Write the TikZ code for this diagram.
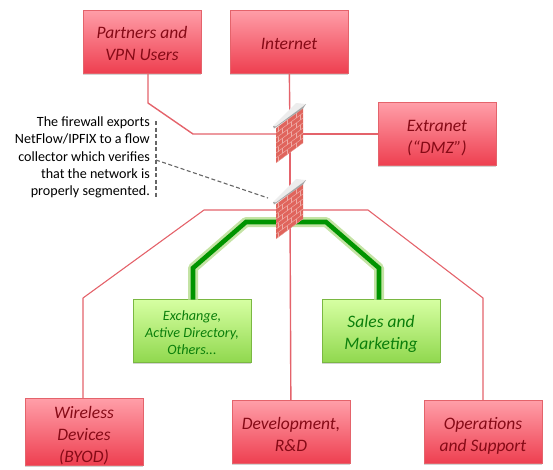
\documentclass[tikz,border=0pt]{standalone}
\usepackage{fontspec}
\setmainfont{Carlito}
\usetikzlibrary{shadows}
\definecolor{netred}{HTML}{E4636B}
\definecolor{nettext}{HTML}{860A16}
\definecolor{redtop}{HTML}{FF9EA8}
\definecolor{redbottom}{HTML}{EE3F50}
\definecolor{greentop}{HTML}{D6FFA2}
\definecolor{greenbottom}{HTML}{90D84E}
\definecolor{greentext}{HTML}{0B7F0B}
\definecolor{greenline}{HTML}{009400}
\definecolor{greenglow}{HTML}{C4E3A4}
\definecolor{brick}{HTML}{E0645C}
\newcommand{\dropline}[1]{\rule{0pt}{#1}}
\tikzset{
  zone/.style={minimum width=118pt, minimum height=63pt, inner sep=0pt, outer sep=0pt,
               align=center, font=\fontsize{17.5}{22}\selectfont\itshape,
               drop shadow={shadow xshift=0pt, shadow yshift=-1.5pt, opacity=0.35}},
  redzone/.style={zone, draw=netred, line width=0.8pt, top color=redtop,
                  bottom color=redbottom, text=nettext},
  greenzone/.style={zone, draw=greenbottom!85!black, line width=0.8pt, top color=greentop,
                    bottom color=greenbottom, text=greentext},
  link/.style={draw=netred, line width=1.4pt, line join=round},
  thinlink/.style={draw=netred, line width=1.1pt, line join=round},
  trunk/.style={draw=greenline, line width=4.6pt, line join=miter},
  glow/.style={draw=greenglow, line width=10pt, line join=round},
  notedash/.style={draw=black!60, line width=1.1pt, dash pattern=on 4pt off 2.5pt},
  pics/brickwall/.style={code={
    \fill[brick] (-14,-6) -- (13,-26) -- (13,9) -- (-14,29) -- cycle;
    \begin{scope}
      \clip (-14,-6) -- (13,-26) -- (13,9) -- (-14,29) -- cycle;
      \foreach \row in {0,...,7}{
        \draw[white!45!brick, line width=0.5pt] (-14,-6+5*\row) -- (13,-26+5*\row);
        \foreach \col in {0,1,2}{
          \pgfmathsetmacro{\colx}{-12+9*\col+4.5*mod(\row,2)}
          \draw[white!45!brick, line width=0.5pt] (\colx,{-6+5*\row-0.74*(\colx+14)})
            -- ++(0,5);
        }
      }
    \end{scope}
    \fill[black!7] (-17,-8) -- (6,-31) -- (16,-30) -- (13,-27) -- (-14,-6) -- cycle;
    \fill[black!35] (-17,-8) -- (-16,-5.5) -- (13,-25.5) -- (16,-30) -- (13,-27.5) -- (-14,-7.5) -- cycle;
  }}
}
\begin{document}
\begin{tikzpicture}[x=1pt,y=-1pt]
  \useasboundingbox (0,0) rectangle (553,469);
  \coordinate (fwa) at (290,134);
  \coordinate (fwb) at (290,210);
  \coordinate (pbenda) at (148,103);
  \coordinate (pbendb) at (193,134);
  \coordinate (wbenda) at (83,298);
  \coordinate (wbendb) at (204,210);
  \coordinate (obenda) at (483,298);
  \coordinate (obendb) at (368,210);
  \coordinate (gbenda) at (193,268);
  \coordinate (gbendb) at (246,222);
  \coordinate (gbendc) at (326,222);
  \coordinate (gbendd) at (379,268);
  \coordinate (dashtop) at (156,121);
  \coordinate (dashbot) at (156,197);
  \coordinate (dashmid) at (156,160);
  \coordinate (dashend) at (268,198);

  \node[redzone] (partners) at (142,41.5) {\dropline{16pt}Partners and\\VPN Users};
  \node[redzone] (internet) at (289,41.5) {\dropline{16pt}Internet};
  \node[redzone] (extranet) at (437,134) {\dropline{20pt}Extranet\\(“DMZ”)};
  \node[redzone] (wireless) at (84,432) {\dropline{20pt}Wireless\\Devices\\(BYOD)};
  \node[redzone] (devel) at (291,432) {\dropline{18pt}Development,\\R\&D};
  \node[redzone] (ops) at (483,432) {\dropline{20pt}Operations\\and Support};
  \node[greenzone, font=\fontsize{14.2}{17}\selectfont\itshape] (exch) at (192,331)
    {\dropline{13pt}Exchange,\\Active Directory,\\Others...};
  \node[greenzone] (sales) at (381,331) {\dropline{18pt}Sales and\\Marketing};
  \node[align=right, anchor=east, inner sep=0pt, font=\fontsize{14.1}{17.2}\selectfont] (note)
    at (150,157.5) {The firewall exports\\NetFlow/IPFIX to a flow\\collector which verifies\\that the network is\\properly segmented.};

  \draw[link] (partners.south -| pbenda) -- (pbenda) -- (pbendb) -- (fwa);
  \draw[link] (internet) -- (fwa);
  \draw[link] (fwa) -- (extranet);
  \draw[link] (fwa) -- (fwb);
  \draw[link] (fwb) -- (devel);
  \draw[thinlink] (wireless.north -| wbenda) -- (wbenda) -- (wbendb) -- (fwb);
  \draw[thinlink] (ops) -- (obenda) -- (obendb) -- (fwb);

  \draw[glow] (exch.north -| gbenda) -- (gbenda) -- (gbendb) -- (fwb |- gbendb) -- (gbendc) -- (gbendd) -- (sales.north -| gbendd);
  \draw[trunk] (exch.north -| gbenda) -- (gbenda) -- (gbendb) -- (fwb |- gbendb) -- (gbendc) -- (gbendd) -- (sales.north -| gbendd);

  \draw[notedash] (dashtop) -- (dashbot);
  \draw[notedash] (dashmid) -- (dashend);

  \pic at (fwa) {brickwall};
  \pic at (fwb) {brickwall};
\end{tikzpicture}
\end{document}
